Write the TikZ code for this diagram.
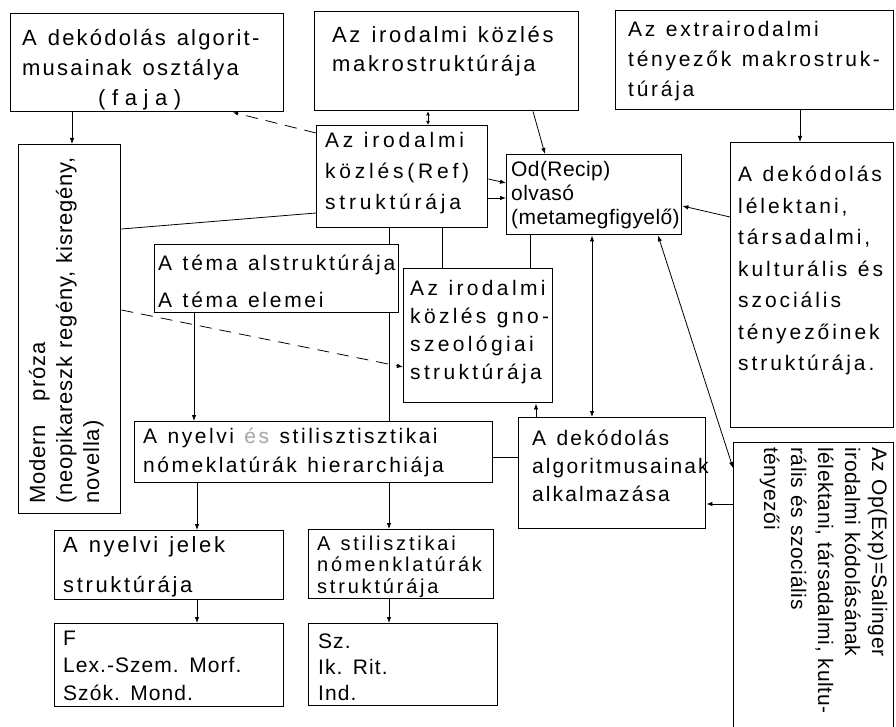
\documentclass[tikz,border=0pt]{standalone}
\usepackage{fontspec}
\setmainfont{Liberation Sans}
\usetikzlibrary{arrows.meta}
\newcommand\ff[3]{\fontsize{#1}{#2}\selectfont\addfontfeatures{LetterSpace=#3}}
\begin{document}
\begin{tikzpicture}[x=1pt,y=-1pt,
 box/.style={draw, line width=1.4pt, inner sep=0pt, anchor=north west},
 txt/.style={anchor=base west, inner sep=0pt, align=left, text width=400pt, wsp=0.5},
 wsp/.style={execute at begin node={\spaceskip=#1em plus 0.1em minus 0.05em\relax}},
 con/.style={line width=0.8pt},
 arr/.style={con, -{Latex[length=6pt,width=4.5pt]}},
 darr/.style={con, {Latex[length=6pt,width=4.5pt]}-{Latex[length=6pt,width=4.5pt]}},
 sarr/.style={con, {Latex[length=4pt,width=4pt]}-{Latex[length=4pt,width=4pt]}},
 dsh/.style={con, dash pattern=on 12pt off 8pt}]
\fill[white] (0,0) rectangle (896,727);
\useasboundingbox (0,0) rectangle (896,727);

% boxes
\node[box, minimum width=273pt, minimum height=98pt] (b1) at (10,13) {};
\node[box, minimum width=264pt, minimum height=99pt] (b2) at (314,11) {};
\node[box, minimum width=278pt, minimum height=99pt] (b3) at (615,10) {};
\node[box, minimum width=171pt, minimum height=102pt] (b4) at (316,125) {};
\node[box, minimum width=175pt, minimum height=80pt] (b5) at (506,154) {};
\node[box, minimum width=163pt, minimum height=285pt] (b6) at (730,142) {};
\node[box, minimum width=102pt, minimum height=369pt] (b7) at (18,144) {};
\node[box, minimum width=244pt, minimum height=68pt] (b8) at (154,244) {};
\node[box, minimum width=149pt, minimum height=134pt] (b9) at (403,268) {};
\node[box, minimum width=358pt, minimum height=61pt] (b10) at (134,421) {};
\node[box, minimum width=187pt, minimum height=111pt] (b11) at (518,417) {};
\node[box, minimum width=160pt, minimum height=290pt] (b12) at (733,442) {};
\node[box, minimum width=229pt, minimum height=69pt] (b13) at (54,530) {};
\node[box, minimum width=185pt, minimum height=69pt] (b14) at (308,529) {};
\node[box, minimum width=229pt, minimum height=83pt] (b15) at (54,623) {};
\node[box, minimum width=189pt, minimum height=82pt] (b16) at (308,623) {};

% texts
\node[txt, font=\ff{22}{30}{10}] (t1) at (22,46) {A dekódolás algorit-\\musainak osztálya\\\hspace*{76pt}\addfontfeatures{LetterSpace=30}(faja)};
\node[txt, font=\ff{22}{29}{12}] (t2) at (332,43) {Az irodalmi közlés\\makrostruktúrája};
\node[txt, font=\ff{21}{30}{13}] (t3) at (628,37) {Az extrairodalmi\\tényezők makrostruk-\\túrája};
\node[txt, font=\ff{21}{31}{18}] (t4) at (325,148) {Az irodalmi\\közlés(Ref)\\struktúrája};
\node[txt, wsp=0.28, font=\ff{21}{24}{2}] (t5) at (511,177) {Od(Recip)\\olvasó\\(metamegfigyelő)};
\node[txt, font=\ff{21}{31.5}{14}] (t6) at (738,182) {A dekódolás\\lélektani,\\társadalmi,\\kulturális és\\szociális\\tényezőinek\\struktúrája.};
\node[txt, wsp=0.36, font=\ff{22}{27}{4}, rotate=90] (t7) at (45,504) {Modern\ \ \ próza\\(neopikareszk regény, kisregény,\\novella)};
\node[txt, font=\ff{21}{37}{13}] (t8) at (158,270) {A téma alstruktúrája\\A téma elemei};
\node[txt, font=\ff{21}{28}{16}] (t9) at (410,295) {Az irodalmi\\közlés gno-\\szeológiai\\struktúrája};
\node[txt, font=\ff{21}{29}{12}] (t10) at (143,443) {A nyelvi {\color{black!35}és} stilisztisztikai\\nómeklatúrák hierarchiája};
\node[txt, font=\ff{21}{28}{10}] (t11) at (532,445) {A dekódolás\\algoritmusainak\\alkalmazása};
\node[txt, wsp=0.34, font=\ff{21}{27}{3}, rotate=-90] (t12) at (872,447) {Az Op(Exp)=Salinger\\irodalmi kódolásának\\lélektani, társadalmi, kultu-\\rális és szociális\\tényezői};
\node[txt, font=\ff{22}{40}{12}] (t13) at (63,552) {A nyelvi jelek\\struktúrája};
\node[txt, font=\ff{20}{21.5}{14}] (t14) at (317,550) {A stilisztikai\\nómenklatúrák\\struktúrája};
\node[txt, font=\ff{21}{27.5}{5}] (t15) at (63,645) {F\\Lex.-Szem. Morf.\\Szók. Mond.};
\node[txt, font=\ff{21}{26}{5}] (t16) at (318,648) {Sz.\\Ik. Rit.\\Ind.};

% connectors
\draw[arr] ([xshift=62pt]b1.south west) -- ([xshift=54pt]b7.north west);
\draw[dsh, -{Latex[length=5pt,width=4pt]}] ([yshift=-8pt]b4.north west) -- ([xshift=223pt]b1.south west);
\draw[con] ([yshift=-85pt]b7.north east) -- ([yshift=-88pt]b4.north west);
\draw[dsh, -{Latex[length=6pt,width=4.5pt]}] ([yshift=-166pt]b7.north east) -- ([yshift=-99pt]b9.north west);
\draw[sarr] ([xshift=114pt]b2.south west) -- ([xshift=112pt]b4.north west);
\draw[arr] ([xshift=219pt]b2.south west) -- ([xshift=39pt]b5.north west);
\draw[arr] ([yshift=-54pt]b4.north east) -- ([yshift=-29pt]b5.north west);
\draw[arr] ([yshift=-73pt]b4.north east) -- ([yshift=-44pt]b5.north west);
\draw[arr] ([yshift=-75pt]b6.north west) -- ([yshift=-52pt]b5.north east);
\draw[arr] ([xshift=185pt]b3.south west) -- ([xshift=70pt]b6.north west);
\draw[con] ([xshift=24pt]b5.south west) -- ([xshift=127pt]b9.north west);
\draw[darr] ([xshift=86pt]b5.south west) -- ([xshift=74pt]b11.north west);
\draw[darr] ([yshift=-26pt]b12.north west) -- ([xshift=152pt]b5.south west);
\draw[arr] ([yshift=-62pt]b12.north west) -- ([yshift=-87pt]b11.north east);
\draw[con] ([xshift=73pt]b4.south west) -- ([xshift=235pt]b8.north west);
\draw[con] ([xshift=235pt]b8.south west) -- ([xshift=255pt]b10.north west);
\draw[con] ([xshift=126pt]b4.south west) -- ([xshift=39pt]b9.north west);
\draw[arr] ([xshift=40pt]b8.south west) -- ([xshift=60pt]b10.north west);
\draw[con] ([yshift=-36pt]b10.north east) -- ([yshift=-40pt]b11.north west);
\draw[arr] ([xshift=18pt]b11.north west) -- ([xshift=133pt]b9.south west);
\draw[arr] ([xshift=255pt]b10.south west) -- ([xshift=81pt]b14.north west);
\draw[arr] ([xshift=63pt]b10.south west) -- ([xshift=143pt]b13.north west);
\draw[arr] ([xshift=143pt]b13.south west) -- ([xshift=143pt]b15.north west);
\draw[arr] ([xshift=81pt]b14.south west) -- ([xshift=81pt]b16.north west);
\end{tikzpicture}
\end{document}
